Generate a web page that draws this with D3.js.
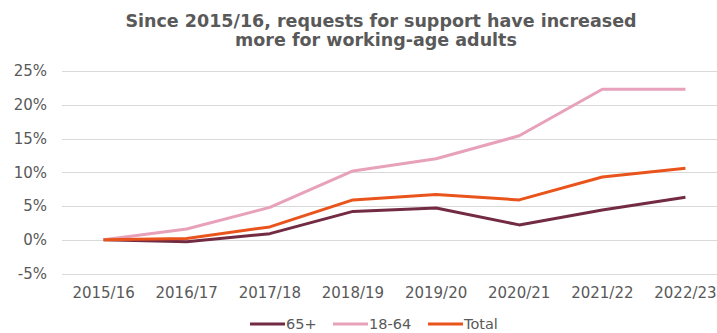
<!DOCTYPE html>
<html>
<head>
<meta charset="utf-8">
<script src="https://cdn.jsdelivr.net/npm/d3@7"></script>
<style>
  body { margin: 0; background: #fff; }
  text { font-family: "DejaVu Sans", sans-serif; fill: #595959; }
</style>
</head>
<body>
<script>
(function () {

//chart data
    var years = ["2015/16", "2016/17", "2017/18", "2018/19", "2019/20", "2020/21", "2021/22", "2022/23"];
    var older = [0, -0.3, 0.9, 4.2, 4.7, 2.2, 4.4, 6.3];      //65+
    var working = [0, 1.6, 4.8, 10.2, 12.0, 15.4, 22.3, 22.3]; //18-64
    var total = [0, 0.2, 1.9, 5.9, 6.7, 5.9, 9.3, 10.6];       //Total
    var yTicks = [-5, 0, 5, 10, 15, 20, 25];

    var seriesNames = ["65+", "18-64", "Total"];
    var seriesColors = ["#722b43", "#e8a1ba", "#e9541c"];
    var seriesData = [older, working, total];

    var width = 717,
        height = 333;

    var svg = d3.select("body")
        .append("svg")
        .attr("width", width)
        .attr("height", height);

    //title
    var title = svg.append("text")
        .attr("x", 381)
        .attr("y", 27)
        .attr("text-anchor", "middle")
        .style("font-size", "17.5px")
        .style("font-weight", "bold");
    title.append("tspan").attr("x", 381).attr("dy", 0).text("Since 2015/16, requests for support have increased");
    title.append("tspan").attr("x", 376).attr("dy", 18.5).text("more for working-age adults");

    //scales
    var x = d3.scaleBand()
        .domain(years)
        .range([62, 727]);

    var y = d3.scaleLinear()
        .domain([-5, 25])
        .range([273.5, 71]);

    //gridlines
    svg.selectAll(".grid")
        .data(yTicks)
        .enter()
        .append("line")
        .attr("class", "grid")
        .attr("x1", 62)
        .attr("x2", 717)
        .attr("y1", function (d) { return Math.round(y(d)) + 0.5; })
        .attr("y2", function (d) { return Math.round(y(d)) + 0.5; })
        .style("stroke", "#d9d9d9")
        .style("stroke-width", 1);

    //y axis labels
    var yAxis = d3.axisLeft(y)
        .tickValues(yTicks)
        .tickSize(0)
        .tickPadding(0)
        .tickFormat(function (d) { return d + "%"; });

    var yg = svg.append("g")
        .attr("transform", "translate(47,0)")
        .call(yAxis);
    yg.select(".domain").remove();
    yg.selectAll("text")
        .style("font-size", "15px")
        .style("font-family", "'DejaVu Sans', sans-serif")
        .attr("fill", "#595959");

    //x axis labels
    var xAxis = d3.axisBottom(x)
        .tickSize(0)
        .tickPadding(0);

    var xg = svg.append("g")
        .attr("transform", "translate(0,287)")
        .call(xAxis);
    xg.select(".domain").remove();
    xg.selectAll("text")
        .style("font-size", "15px")
        .style("font-family", "'DejaVu Sans', sans-serif")
        .attr("fill", "#595959");

    //lines
    var line = d3.line()
        .x(function (d, i) { return x(years[i]) + x.bandwidth() / 2; })
        .y(function (d) { return y(d); });

    svg.selectAll(".series")
        .data(seriesData)
        .enter()
        .append("path")
        .attr("class", "series")
        .attr("d", line)
        .style("fill", "none")
        .style("stroke", function (d, i) { return seriesColors[i]; })
        .style("stroke-width", 3)
        .style("stroke-linejoin", "round");

    //legend
    var legendX = [250, 333, 428];
    var legend = svg.selectAll(".legend")
        .data(seriesNames)
        .enter()
        .append("g")
        .attr("class", "legend")
        .attr("transform", function (d, i) { return "translate(" + legendX[i] + ",324)"; });

    legend.append("line")
        .attr("x1", 0)
        .attr("x2", 35)
        .style("stroke", function (d, i) { return seriesColors[i]; })
        .style("stroke-width", 3);

    legend.append("text")
        .attr("x", 36)
        .attr("dy", "0.33em")
        .style("font-size", "14.5px")
        .text(function (d) { return d; });

})();
</script>
</body>
</html>
